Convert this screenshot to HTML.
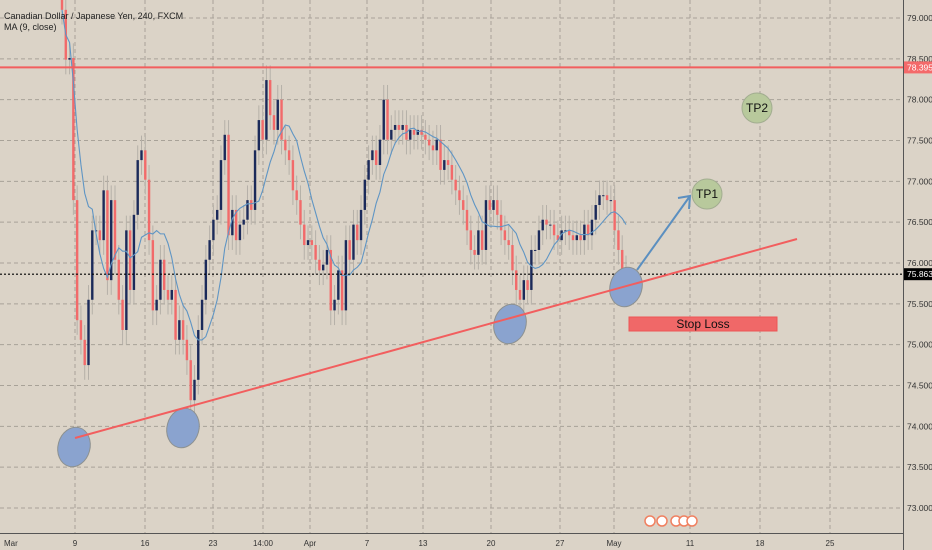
<!DOCTYPE html>
<html><head><meta charset="utf-8"><style>
html,body{margin:0;padding:0;background:#dbd3c7;}
svg{display:block;font-family:"Liberation Sans",sans-serif;}
</style></head><body>
<svg id="chart" width="932" height="550" viewBox="0 0 932 550" xmlns="http://www.w3.org/2000/svg">
<rect width="932" height="550" fill="#dbd3c7"/>
<g id="grid"></g>
<g id="candles"></g>
<g id="ma"></g>
<g id="overlays"></g>
<g id="axes"></g>
</svg>
<script>
const closes=[79.10,78.49,78.51,76.77,75.30,75.06,74.75,75.55,76.40,76.40,76.28,76.89,75.79,76.77,76.04,75.55,75.18,76.40,75.67,76.59,
77.26,77.38,77.02,76.28,75.42,75.55,76.04,75.67,75.55,75.67,75.06,75.30,75.06,74.81,74.32,74.57,75.18,75.55,76.04,76.28,
76.53,76.65,77.26,77.57,76.34,76.65,76.28,76.47,76.53,76.77,76.65,77.38,77.75,77.51,78.24,77.81,77.63,78.00,77.51,77.38,
77.26,76.89,76.77,76.47,76.22,76.28,76.22,76.04,75.91,75.98,76.16,75.42,75.55,75.91,75.42,76.28,76.04,76.47,76.28,76.65,
77.02,77.26,77.38,77.20,77.51,78.00,77.51,77.63,77.69,77.63,77.69,77.51,77.63,77.57,77.63,77.57,77.51,77.44,77.38,77.51,
77.14,77.26,77.20,77.02,76.89,76.77,76.65,76.40,76.16,76.10,76.40,76.16,76.77,76.65,76.77,76.59,76.40,76.28,76.22,75.91,
75.67,75.55,75.79,75.67,76.16,76.16,76.40,76.53,76.47,76.47,76.34,76.28,76.40,76.40,76.34,76.28,76.34,76.28,76.47,76.34,
76.53,76.71,76.83,76.83,76.77,76.77,76.40,76.16,75.91,75.86];
const priceTicks=[79.0,78.5,78.0,77.5,77.0,76.5,76.0,75.5,75.0,74.5,74.0,73.5,73.0];
const dateLabels=["Mar","9","16","23","14:00","Apr","7","13","20","27","May","11","18","25"];
const dateXs=[4,75,145,213,263,310,367,423,491,560,614,690,760,830];
const resistance=78.395, lastPrice=75.863;

const NS="http://www.w3.org/2000/svg";
function el(t,a,p){const e=document.createElementNS(NS,t);for(const k in a)e.setAttribute(k,a[k]);(p||document.getElementById('chart')).appendChild(e);return e;}
const Y=p=>18+(79-p)*81.67;
const X=i=>62+i*(626-62)/(closes.length-1);
const W=903,B=533;
const grid=document.getElementById('grid'),axes=document.getElementById('axes');

priceTicks.forEach(p=>{
  const g=el('line',{x1:0,x2:W,y1:Y(p),y2:Y(p),stroke:'#a8a298','stroke-dasharray':'4,3','stroke-width':1},grid);
  
  
  const t=el('text',{x:W+4,y:Y(p)+3,'font-size':8.5,fill:'#333'},axes);t.textContent=p.toFixed(3);
  
  
});
dateLabels.forEach((d,i)=>{
  if(i>0){const g=el('line',{x1:dateXs[i],x2:dateXs[i],y1:0,y2:B,stroke:'#a8a298','stroke-dasharray':'4,3','stroke-width':1},grid);
  
  }
  const t=el('text',{x:dateXs[i],y:546,'font-size':8,fill:'#333','text-anchor':i==0?'start':'middle'},axes);t.textContent=d;
  
  
});

const cg=document.getElementById('candles');
closes.forEach((c,i)=>{
  const o=i==0?79.3:closes[i-1];
  const hi=Math.max(o,c)+0.18,lo=Math.min(o,c)-0.18;
  const x=X(i),up=c>=o;
  const w=el('line',{x1:x,x2:x,y1:Y(hi),y2:Y(lo),stroke:'#b5b0a8','stroke-width':1},cg);
  
  
  const r=el('rect',{x:x-1.2,y:Math.min(Y(o),Y(c)),width:2.4,height:Math.max(1,Math.abs(Y(o)-Y(c))),fill:up?'#1b2a5a':'#f26a6a'},cg);
  
  
});
let pts=[];
for(let i=0;i<closes.length;i++){const s=closes.slice(Math.max(0,i-8),i+1);const m=s.reduce((a,b)=>a+b,0)/s.length;pts.push(X(i)+','+Y(m));}
const ma=el('polyline',{points:pts.join(' '),fill:'none',stroke:'#5f95c4','stroke-width':1.1},document.getElementById('ma'));



const ov=document.getElementById('overlays');
const res=el('line',{x1:0,x2:W,y1:Y(resistance),y2:Y(resistance),stroke:'#f25e5e','stroke-width':2},ov);


const lp=el('line',{x1:0,x2:W,y1:Y(lastPrice),y2:Y(lastPrice),stroke:'#000','stroke-dasharray':'2,2','stroke-width':1.2},ov);


[[74,447],[183,428],[510,324],[626,287]].forEach(c=>{
  const e=el('ellipse',{cx:c[0],cy:c[1],rx:16,ry:20,fill:'#8aa3cf',stroke:'#8d9190','stroke-width':1,transform:'rotate(15 '+c[0]+' '+c[1]+')'},ov);
  
  
});
const tl=el('line',{x1:75,y1:438,x2:797,y2:239,stroke:'#f25e5e','stroke-width':2},ov);


const ar=el('path',{d:'M637 270 L690 196 M678 198 L690 196 L689 209',fill:'none',stroke:'#5b8fc0','stroke-width':2},ov);


[[707,194,'TP1'],[757,108,'TP2']].forEach(c=>{
  const g=el('circle',{cx:c[0],cy:c[1],r:15,fill:'#b8c99c',stroke:'#a2ad90','stroke-width':1},ov);
  
  
  const t=el('text',{x:c[0],y:c[1]+4,'font-size':12,'text-anchor':'middle',fill:'#111'},ov);t.textContent=c[2];
  
  
});
const sl=el('rect',{x:629,y:317,width:148,height:14,fill:'#f06868',stroke:'#e55','stroke-width':1},ov);


const slt=el('text',{x:703,y:328,'font-size':12,'text-anchor':'middle',fill:'#111'},ov);slt.textContent='Stop Loss';



const va=el('line',{x1:W+0.5,x2:W+0.5,y1:0,y2:550,stroke:'#555','stroke-width':1},axes);


const ha=el('line',{x1:0,x2:W,y1:B+0.5,y2:B+0.5,stroke:'#555','stroke-width':1},axes);


const rb=el('rect',{x:W+1,y:Y(resistance)-6,width:28,height:12,fill:'#f46a6a'},axes);


const rt=el('text',{x:W+4,y:Y(resistance)+3,'font-size':8.5,fill:'#fff'},axes);rt.textContent=resistance.toFixed(3);


const lb=el('rect',{x:W+1,y:Y(lastPrice)-6,width:28,height:12,fill:'#000'},axes);


const lt=el('text',{x:W+4,y:Y(lastPrice)+3,'font-size':8.5,fill:'#fff'},axes);lt.textContent=lastPrice.toFixed(3);


[[650,'2'],[662,''],[676,'2'],[684,'3'],[692,'7']].forEach(f=>{
  const c=el('circle',{cx:f[0],cy:521,r:5,fill:'#fff',stroke:'#f08060','stroke-width':1.5},axes);
  
  
});
const t1=el('text',{x:4,y:19,'font-size':9,fill:'#222'},axes);t1.textContent='Canadian Dollar / Japanese Yen, 240, FXCM';


const t2=el('text',{x:4,y:30,'font-size':9,fill:'#222'},axes);t2.textContent='MA (9, close)';


</script>
</body></html>
